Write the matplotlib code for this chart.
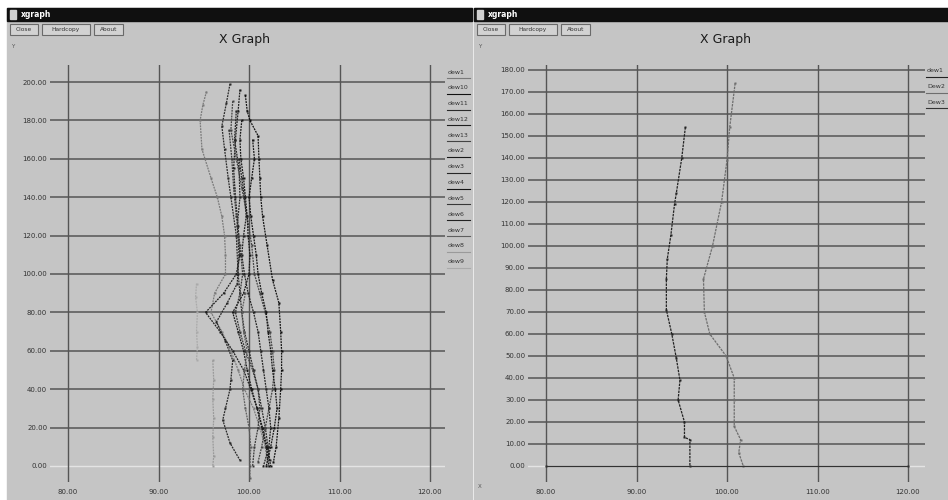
import numpy as np
import matplotlib.pyplot as plt
from matplotlib.patches import Rectangle

W, H = 948, 500
BG = '#c5c5c5'
GRID = '#555555'

# ---- left window data (xgraph, 13 sets) ----
left_xticks = [80, 90, 100, 110, 120]
left_yticks = [0, 20, 40, 60, 80, 100, 120, 140, 160, 180, 200]
left_names = ['dew1', 'dew10', 'dew11', 'dew12', 'dew13', 'dew2', 'dew3',
              'dew4', 'dew5', 'dew6', 'dew7', 'dew8', 'dew9']

dew1_y = [195, 188, 180, 165, 150, 140, 130, 120, 110, 100, 90, 80, 70, 60, 50, 40, 30, 20, 10, 0]
dew1_x = [95.3, 94.9, 94.6, 94.8, 95.8, 96.5, 97.0, 97.3, 97.4, 97.4, 96.2, 95.8, 97.0, 98.0, 98.8, 99.5, 100.5, 101.2, 101.8, 102.1]
dew10_y = [193, 185, 180, 172, 160, 150, 140, 130, 115, 97, 85, 70, 60, 50, 40, 25, 10, 2]
dew10_x = [99.6, 99.8, 100.1, 101.0, 101.1, 101.2, 101.3, 101.5, 102.0, 102.6, 103.3, 103.5, 103.6, 103.6, 103.5, 103.3, 103.0, 102.7]
dew11_y = [199, 189, 177, 165, 150, 140, 120, 100, 80, 70, 60, 50, 40, 30, 20, 10, 3]
dew11_x = [97.9, 97.5, 97.0, 97.3, 97.7, 98.0, 98.6, 98.8, 99.2, 99.5, 100.0, 100.5, 101.0, 101.4, 101.8, 102.1, 102.3]
dew12_y = [196, 185, 170, 155, 140, 125, 110, 100, 90, 80, 70, 60, 50, 40, 30, 20, 10, 0]
dew12_x = [99.0, 98.8, 98.5, 98.3, 98.5, 98.8, 99.0, 98.6, 97.2, 95.2, 96.8, 98.2, 99.4, 100.2, 100.9, 101.5, 102.0, 102.4]
dew13_y = [190, 175, 160, 145, 130, 115, 100, 90, 80, 70, 60, 50, 40, 30, 20, 10, 2]
dew13_x = [98.2, 98.0, 98.6, 99.2, 99.8, 100.3, 100.6, 101.2, 101.8, 102.3, 102.6, 102.8, 102.6, 102.2, 101.8, 101.4, 101.0]
dew2_y = [180, 170, 160, 150, 140, 130, 120, 110, 100, 90, 80, 70, 60, 50, 40, 30, 20, 10, 0]
dew2_x = [99.2, 99.0, 99.1, 99.4, 99.6, 99.8, 99.9, 100.1, 100.0, 99.4, 98.2, 98.8, 99.4, 99.8, 100.3, 100.9, 101.4, 101.9, 102.2]
dew3_y = [185, 170, 155, 140, 125, 110, 95, 85, 75, 65, 55, 45, 40, 30, 24, 12, 3]
dew3_x = [98.6, 98.4, 98.9, 99.0, 98.7, 98.9, 98.7, 97.6, 96.4, 97.4, 98.2, 98.0, 97.9, 97.4, 97.1, 97.9, 99.0]
dew4_y = [170, 160, 150, 140, 130, 120, 110, 100, 90, 80, 70, 60, 50, 40, 30, 20, 10, 0]
dew4_x = [100.4, 100.6, 100.3, 100.0, 100.2, 100.5, 100.8, 101.0, 101.4, 101.9, 102.1, 102.4, 102.6, 102.9, 103.1, 102.8, 102.4, 101.9]
dew5_y = [175, 160, 145, 130, 115, 100, 90, 80, 70, 60, 50, 40, 30, 20, 10, 0]
dew5_x = [97.8, 98.1, 98.3, 98.6, 99.0, 99.3, 99.0, 98.5, 99.0, 99.6, 100.4, 101.0, 101.2, 101.0, 100.6, 100.4]
dew6_y = [160, 150, 140, 130, 120, 110, 100, 90, 80, 70, 60, 50, 40, 30, 20, 10, 0]
dew6_x = [98.9, 99.2, 99.5, 99.7, 99.4, 99.2, 99.5, 99.9, 100.5, 101.0, 101.3, 101.6, 101.9, 102.2, 102.4, 102.2, 101.6]
dew7_y = [90, 80, 70, 60, 50, 40, 30, 20, 10, 0, -6]
dew7_x = [99.6, 99.2, 99.4, 99.8, 99.5, 99.3, 99.6, 100.0, 100.2, 100.1, 100.1]
dew8_y = [55, 45, 35, 25, 15, 5, 0]
dew8_x = [96.0, 96.1, 96.0, 96.1, 96.0, 96.1, 96.0]
dew9_y = [95, 88, 80, 70, 62, 55]
dew9_x = [94.2, 94.1, 94.3, 94.2, 94.3, 94.2]

left_x = [dew1_x, dew10_x, dew11_x, dew12_x, dew13_x, dew2_x, dew3_x,
          dew4_x, dew5_x, dew6_x, dew7_x, dew8_x, dew9_x]
left_y = [dew1_y, dew10_y, dew11_y, dew12_y, dew13_y, dew2_y, dew3_y,
          dew4_y, dew5_y, dew6_y, dew7_y, dew8_y, dew9_y]
left_colors = ['#7a7a7a', '#111111', '#2a2a2a', '#1e1e1e', '#444444', '#181818',
               '#262626', '#141414', '#383838', '#222222', '#5e5e5e', '#9a9a9a', '#aaaaaa']

# ---- right window data (3 sets) ----
right_xticks = [80, 90, 100, 110, 120]
right_yticks = list(range(0, 181, 10))
right_names = ['dew1', 'Dew2', 'Dew3']

r1_y = [154, 140, 124, 119, 105, 94, 85, 71, 60, 49, 39, 30, 20, 13, 12, 0]
r1_x = [95.4, 95.0, 94.4, 94.2, 93.8, 93.4, 93.3, 93.3, 93.9, 94.4, 94.8, 94.6, 95.3, 95.3, 95.9, 95.9]
r2_y = [174, 154, 139, 120, 100, 85, 70, 60, 50, 40, 30, 18, 12, 6, 0]
r2_x = [100.9, 100.3, 100.0, 99.4, 98.4, 97.4, 97.5, 98.1, 99.9, 100.8, 100.8, 100.8, 101.5, 101.3, 101.8]
r3_y = [0, 0]
r3_x = [80, 120]


def px_axes(fig, x0, y0, x1, y1):
    return fig.add_axes([x0 / W, 1 - y1 / H, (x1 - x0) / W, (y1 - y0) / H])


fig = plt.figure(figsize=(W / 100, H / 100), dpi=100, facecolor='white')

# background drawn in pixel coordinates
bg = fig.add_axes([0, 0, 1, 1])
bg.set_xlim(0, W)
bg.set_ylim(H, 0)
bg.axis('off')

for wx0, wx1 in [(7, 472), (474, 948)]:
    bg.add_patch(Rectangle((wx0, 8), wx1 - wx0, H - 8, color=BG, zorder=0))
    bg.add_patch(Rectangle((wx0, 8), wx1 - wx0, 13, color='#101010', zorder=1))
    bg.add_patch(Rectangle((wx0 + 3, 10), 6, 9, color='#d0d0d0', zorder=2))
    bg.text(wx0 + 14, 14.5, 'xgraph', color='white', fontsize=5.5,
            fontweight='bold', va='center', ha='left')
    bx = wx0 + 3
    for label, bw in [('Close', 28), ('Hardcopy', 48), ('About', 29)]:
        bg.add_patch(Rectangle((bx, 24), bw, 11, facecolor='#d2d2d2',
                               edgecolor='#6a6a6a', linewidth=0.8, zorder=2))
        bg.text(bx + bw / 2, 29.5, label, fontsize=4.2, ha='center',
                va='center', color='#333333', zorder=3)
        bx += bw + 4
    bg.text(wx0 + 4, 46, 'Y', fontsize=4, color='#555555', va='center')

bg.text(245, 39, 'X Graph', fontsize=9, ha='center', va='center', color='#1a1a1a')
bg.text(726, 39, 'X Graph', fontsize=9, ha='center', va='center', color='#1a1a1a')
bg.text(478, 487, 'X', fontsize=4, color='#555555', va='center')


def style_axes(ax, xticks, yticks):
    ax.set_facecolor('none')
    for s in ax.spines.values():
        s.set_visible(False)
    ax.set_xticks(xticks)
    ax.set_yticks(yticks)
    ax.set_xticklabels(['%.2f' % v for v in xticks])
    ax.set_yticklabels(['%.2f' % v for v in yticks])
    ax.tick_params(length=0, labelsize=5, colors='#333333', pad=2)
    ax.tick_params(axis='x', pad=5)
    for v in yticks:
        if v == 0:
            ax.axhline(v, color='#e4e4e4', lw=1.0, zorder=1)
        else:
            ax.axhline(v, color=GRID, lw=1.1, zorder=1)
    for v in xticks:
        ax.axvline(v, color=GRID, lw=1.0, zorder=1)


# left plot: px x 50..445, y 65..482
axl = px_axes(fig, 50, 65, 445, 482)
axl.set_xlim(80 + (50 - 68) / 9.05, 80 + (445 - 68) / 9.05)
axl.set_ylim((466 - 482) / 1.92, (466 - 65) / 1.92)
style_axes(axl, left_xticks, left_yticks)
for xs, ys, c in zip(left_x, left_y, left_colors):
    axl.plot(xs, ys, color=c, lw=0.9, ls=(0, (1.5, 0.8)), marker='s', ms=1.8,
             mec='none', zorder=3)

# left legend
for i, (name, c) in enumerate(zip(left_names, left_colors)):
    ly = 72 + i * 15.8
    bg.text(448, ly, name, fontsize=4.5, color='#333333', va='center', ha='left')
    bg.plot([447, 470], [ly + 6, ly + 6], color=c, lw=0.8)

# right plot: px x 528..925, y 65..482
axr = px_axes(fig, 528, 65, 925, 482)
axr.set_xlim(80 + (528 - 546) / 9.05, 80 + (925 - 546) / 9.05)
axr.set_ylim((466 - 482) / 2.2, (466 - 65) / 2.2)
style_axes(axr, right_xticks, right_yticks)
right_colors = ['#222222', '#6e6e6e', '#333333']
right_ls = [(0, (2, 0.8)), (0, (2, 0.8)), '-']
for xs, ys, c, ls in zip([r1_x, r2_x, r3_x], [r1_y, r2_y, r3_y], right_colors, right_ls):
    axr.plot(xs, ys, color=c, lw=0.9, ls=ls, marker='s', ms=1.8,
             mec='none', zorder=3)

for i, (name, c) in enumerate(zip(right_names, right_colors)):
    ly = 71 + i * 15.5
    bg.text(927, ly, name, fontsize=4.5, color='#333333', va='center', ha='left')
    bg.plot([926, 948], [ly + 6, ly + 6], color=c, lw=0.8)

fig.savefig('out.png', dpi=100, facecolor='white')
